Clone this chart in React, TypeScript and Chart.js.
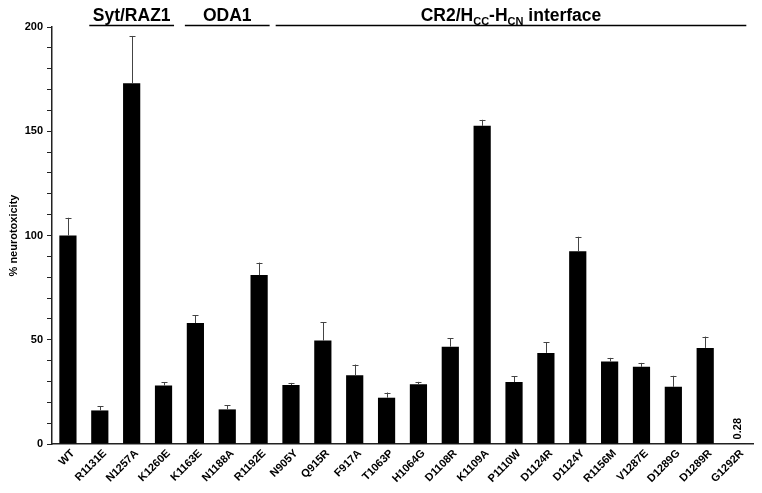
import React, { useEffect, useRef } from "react";
import { Chart, registerables } from "chart.js";

Chart.register(...registerables);

const categories = [
  "WT", "R1131E", "N1257A", "K1260E", "K1163E", "N1188A", "R1192E", "N905Y",
  "Q915R", "F917A", "T1063P", "H1064G", "D1108R", "K1109A", "P1110W", "D1124R",
  "D1124Y", "R1156M", "V1287E", "D1289G", "D1289R", "G1292R",
];
const values = [
  100, 16.1, 173, 28, 58, 16.6, 81, 28.3,
  49.6, 33, 22.2, 28.6, 46.7, 152.6, 29.7, 43.7,
  92.5, 39.6, 37, 27.4, 46.1, 0.28,
];
const errors = [
  8.5, 2.1, 22.7, 1.7, 3.7, 1.9, 6, 1,
  8.8, 5.1, 2.5, 1.2, 4, 2.9, 2.7, 5,
  6.9, 1.7, 1.9, 5.3, 5.4, 0,
];
const groupNames = ["Syt/RAZ1", "ODA1", "CR2/H_CC-H_CN interface"];
const groupFirst = [1, 4, 7];
const groupLast = [3, 6, 21];
const valueLabelIndex = 21;
const valueLabelText = "0.28";
const yTitle = "% neurotoxicity";

const FONT = "Arial, 'Liberation Sans', sans-serif";

const annotationPlugin = {
  id: "annotations",
  afterDatasetsDraw(chart: any) {
    const ctx = chart.ctx;
    const meta = chart.getDatasetMeta(0);
    const yScale = chart.scales.y;
    const xScale = chart.scales.x;
    ctx.save();
    // error bars (upper only)
    ctx.strokeStyle = "#444";
    ctx.lineWidth = 1;
    meta.data.forEach((el: any, i: number) => {
      const e = errors[i];
      if (!e) return;
      const yTop = yScale.getPixelForValue(values[i] + e);
      const x = Math.round(el.x) + 0.5;
      ctx.beginPath();
      ctx.moveTo(x, el.y);
      ctx.lineTo(x, yTop);
      ctx.moveTo(x - 3, Math.round(yTop) + 0.5);
      ctx.lineTo(x + 3, Math.round(yTop) + 0.5);
      ctx.stroke();
    });
    // value label
    const el = meta.data[valueLabelIndex];
    ctx.fillStyle = "#000";
    ctx.font = `bold 11px ${FONT}`;
    ctx.translate(el.x + 1, el.y - 4);
    ctx.rotate(-Math.PI / 2);
    ctx.textAlign = "left";
    ctx.textBaseline = "middle";
    ctx.fillText(valueLabelText, 0, 0);
    ctx.restore();

    // group headers
    ctx.save();
    const step = xScale.getPixelForValue(1) - xScale.getPixelForValue(0);
    const lineY = 25.5;
    ctx.strokeStyle = "#000";
    ctx.lineWidth = 1.7;
    ctx.fillStyle = "#000";
    groupNames.forEach((name, g) => {
      const isLast = g === groupNames.length - 1;
      const x1 = xScale.getPixelForValue(groupFirst[g]) - (isLast ? 0.48 : 0.33) * step;
      const x2 = xScale.getPixelForValue(groupLast[g]) + (isLast ? 0.29 : 0.33) * step;
      ctx.beginPath();
      ctx.moveTo(x1, lineY);
      ctx.lineTo(x2, lineY);
      ctx.stroke();
      const cx = (x1 + x2) / 2;
      const parts: { t: string; sub: boolean }[] = [];
      const re = /_([A-Z]+)/g;
      let last = 0;
      let m;
      while ((m = re.exec(name)) !== null) {
        if (m.index > last) parts.push({ t: name.slice(last, m.index), sub: false });
        parts.push({ t: m[1], sub: true });
        last = m.index + m[0].length;
      }
      if (last < name.length) parts.push({ t: name.slice(last), sub: false });
      const mainFont = `bold 17.5px ${FONT}`;
      const subFont = `bold 11px ${FONT}`;
      let total = 0;
      parts.forEach((p) => {
        ctx.font = p.sub ? subFont : mainFont;
        total += ctx.measureText(p.t).width;
      });
      let x = cx - total / 2;
      ctx.textAlign = "left";
      ctx.textBaseline = "alphabetic";
      parts.forEach((p) => {
        ctx.font = p.sub ? subFont : mainFont;
        ctx.fillText(p.t, x, p.sub ? 25 : 21);
        x += ctx.measureText(p.t).width;
      });
    });
    ctx.restore();
  },
};

export default function App() {
  const ref = useRef<HTMLCanvasElement>(null);
  useEffect(() => {
    document.body.style.margin = "0";
    const chart = new Chart(ref.current as HTMLCanvasElement, {
      type: "bar",
      data: {
        labels: categories,
        datasets: [
          {
            data: values,
            backgroundColor: "#000",
            borderWidth: 0,
            barPercentage: 0.54,
            categoryPercentage: 1,
          },
        ],
      },
      options: {
        animation: false,
        responsive: false,
        layout: { padding: { top: 27, right: 9, left: 0, bottom: 0 } },
        plugins: {
          legend: { display: false },
          tooltip: { enabled: false },
        },
        scales: {
          x: {
            grid: { display: false, drawTicks: false },
            border: { display: true, color: "#222", width: 1.5 },
            ticks: {
              autoSkip: false,
              maxRotation: 45,
              minRotation: 45,
              padding: 3,
              labelOffset: 5,
              color: "#000",
              font: { family: FONT, size: 11, weight: "bold" },
            },
            afterFit(scale: any) {
              scale.height = 49;
            },
          },
          y: {
            min: 0,
            max: 200,
            grid: { drawOnChartArea: false, drawTicks: true, tickLength: 5, color: "#222" },
            border: { display: true, color: "#222", width: 1.5 },
            ticks: {
              stepSize: 10,
              padding: 4,
              color: "#000",
              font: { family: FONT, size: 11, weight: "bold" },
              callback: (v: any) => (Number(v) % 50 === 0 ? String(v) : ""),
            },
            title: {
              display: true,
              text: yTitle,
              color: "#000",
              font: { family: FONT, size: 11, weight: "bold" },
              padding: { top: 7, bottom: 0 },
            },
            afterFit(scale: any) {
              scale.width = 52;
            },
          },
        },
      },
      plugins: [annotationPlugin],
    } as any);
    return () => chart.destroy();
  }, []);
  return (
    <div style={{ width: 762, height: 493 }}>
      <canvas ref={ref} width={762} height={493} />
    </div>
  );
}
